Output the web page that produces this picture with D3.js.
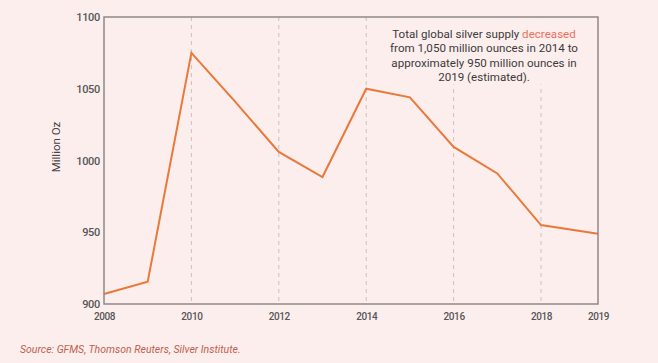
<!DOCTYPE html>
<html><head><meta charset="utf-8">
<script src="https://cdn.jsdelivr.net/npm/d3@7"></script>
<style>
html,body{margin:0;padding:0;background:#fdeeee;}
svg{display:block;font-family:Roboto,"Noto Sans",sans-serif;}
</style></head>
<body><svg id="c" width="658" height="363"></svg>
<script>
const years = [2008,2009,2010,2011,2012,2013,2014,2015,2016,2017,2018,2019];
const supply = [907,915.5,1075,1041,1006,988.5,1050,1044,1009.5,991,955,949];
const xTickYears = [2008,2010,2012,2014,2016,2018,2019];
const gridYears = [2010,2012,2014,2016,2018];
const yTicks = [900,950,1000,1050,1100];
const annotationLines = [
  [["Total global silver supply ", false],["decreased", true]],
  [["from 1,050 million ounces in 2014 to", false]],
  [["approximately 950 million ounces in", false]],
  [["2019 (estimated).", false]]
];
const yLabel = "Million Oz";
const sourceText = "Source: GFMS, Thomson Reuters, Silver Institute.";

const svg = d3.select("#c");
const m = {l:104, t:17, r:60, b:59};
const W = 658 - m.l - m.r, H = 363 - m.t - m.b;
const x = d3.scaleLinear().domain([2008,2018,2019]).range([0, W*437/494, W]);
const y = d3.scaleLinear().domain([900,1100]).range([H,0]);
const g = svg.append("g").attr("transform",`translate(${m.l},${m.t})`);

// grid lines
g.selectAll("line.grid").data(gridYears).enter().append("line")
  .attr("x1",d=>x(d)).attr("x2",d=>x(d)).attr("y1",0).attr("y2",H)
  .attr("stroke","#c9c0c0").attr("stroke-width",1).attr("stroke-dasharray","4,4");

// annotation background (hides grid under text)
g.append("rect").attr("x",x(2015.4)).attr("y",1).attr("width",W-x(2015.4)-1).attr("height",y(1053)-1)
  .attr("fill","#fdeeee");

// line
g.append("path").datum(years.map((yr,i)=>[yr,supply[i]]))
  .attr("fill","none").attr("stroke","#e8793a").attr("stroke-width",2)
  .attr("d", d3.line().x(d=>x(d[0])).y(d=>y(d[1])));

// frame
g.append("rect").attr("x",0).attr("y",0).attr("width",W).attr("height",H)
  .attr("fill","none").attr("stroke","#8e8888").attr("stroke-width",1.5);

// axes
const yAxis = g.append("g").call(d3.axisLeft(y).tickValues(yTicks).tickFormat(d3.format("d")).tickSize(0).tickPadding(4));
yAxis.select(".domain").remove();
yAxis.selectAll("text").attr("font-size",11).attr("font-weight",500).attr("fill","#555")
  .attr("letter-spacing","-0.3").style("font-family","Roboto");
const xAxis = g.append("g").attr("transform",`translate(0,${H})`)
  .call(d3.axisBottom(x).tickValues(xTickYears).tickFormat(d3.format("d")).tickSize(0).tickPadding(9));
xAxis.select(".domain").remove();
xAxis.selectAll("text").attr("font-size",10).attr("font-weight",500).attr("fill","#555")
  .attr("letter-spacing","-0.4").style("font-family","Roboto");

// y label
svg.append("text").attr("transform","translate(60,147) rotate(-90)").attr("text-anchor","middle")
  .attr("font-size",11.5).attr("fill","#444").text(yLabel);

// annotation
const ann = svg.append("text").attr("text-anchor","middle").attr("font-size",11.6).attr("fill","#3a3a3a");
annotationLines.forEach((parts,i)=>{
  const line = ann.append("tspan").attr("x",484).attr("y",38+i*14.3);
  parts.forEach(([s,hl])=>{
    line.append("tspan").attr("fill", hl ? "#f0705c" : "#3a3a3a").text(s);
  });
});

// source
svg.append("text").attr("x",20).attr("y",353).attr("font-size",10.5).attr("font-style","italic")
  .attr("fill","#c0604a").text(sourceText);
</script></body></html>
